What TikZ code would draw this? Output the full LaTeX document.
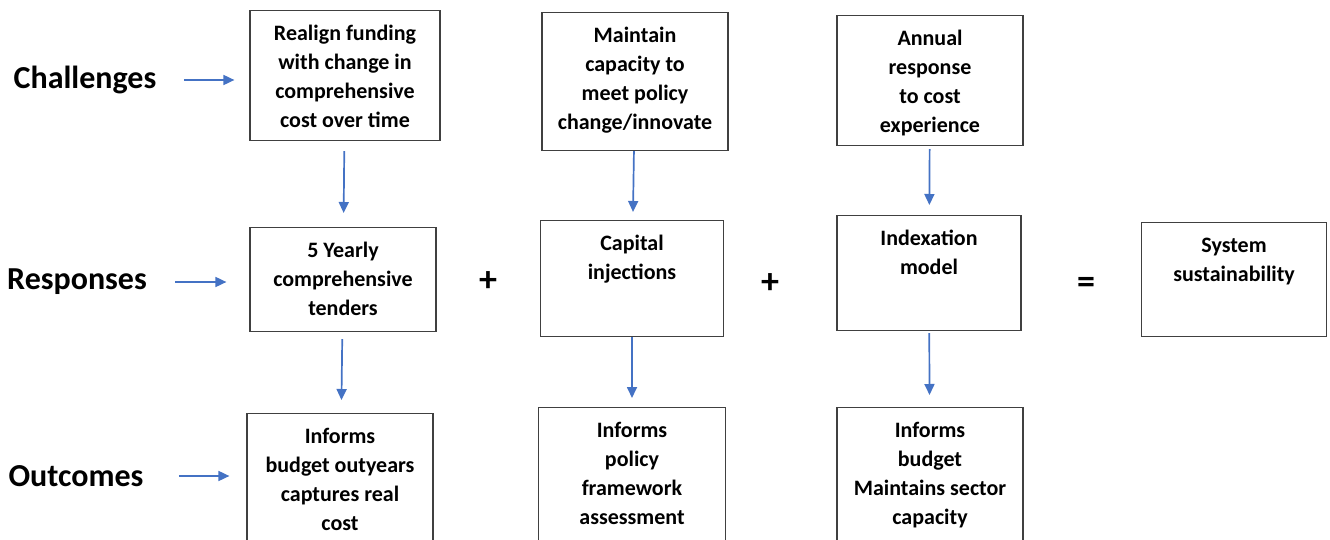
\documentclass[tikz,border=0pt]{standalone}
\usepackage{fontspec}
\setmainfont{Carlito}
\usetikzlibrary{arrows.meta}

\definecolor{flowblue}{RGB}{68,114,196}

\begin{document}
\begin{tikzpicture}[
    x = 1pt, y = -1pt,
    flow/.style = {draw = flowblue, line width = 1.7pt,
      -{Triangle[length = 11pt, width = 10pt]}},
    box/.style = {draw = black!75, line width = 1.2pt,
      anchor = north, align = center,
      font = \fontsize{22}{29}\selectfont\bfseries,
      inner sep = 0pt, minimum width = 186pt},
    stage/.style = {font = \fontsize{32}{36}\selectfont\bfseries},
    sign/.style = {font = \fontsize{36}{38}\selectfont\bfseries},
    ]

    \useasboundingbox (0, 0) rectangle (1330, 540);

    % row labels
    \node at (85, 80) [stage, name = L_chal] {Challenges};
    \node at (77, 282) [stage, name = L_resp] {Responses};
    \node at (76, 476) [stage, name = L_outc] {Outcomes};

    % challenges
    \node at (345, 10) [box, minimum width = 190pt,
    text height = 117pt, text depth = 13pt, name = C_fund]
    {Realign funding\\with change in\\comprehensive\\cost over time};
    \node at (635, 12) [box, text height = 117pt, text depth = 21pt,
    name = C_cap]
    {Maintain\\capacity to\\meet policy\\change/innovate};
    \node at (930, 15) [box, text height = 117pt, text depth = 13pt,
    name = C_cost]
    {Annual\\response\\to cost\\experience};

    % responses
    \node at (343, 227) [box, text height = 88pt, text depth = 16pt,
    name = R_tend]
    {5 Yearly\\comprehensive\\tenders};
    \node at (632, 220) [box, minimum width = 183pt,
    text height = 59pt, text depth = 57pt, name = R_capi]
    {Capital\\injections};
    \node at (929, 215) [box, minimum width = 184pt,
    text height = 59pt, text depth = 56pt, name = R_index]
    {Indexation\\model};
    \node at (1234, 222) [box, minimum width = 185pt,
    text height = 59pt, text depth = 55pt, name = R_sys]
    {System\\sustainability};

    % outcomes (run off the bottom edge)
    \node at (340, 413) [box, text height = 117pt, text depth = 83pt,
    name = O_budget]
    {Informs\\budget outyears\\captures real\\cost};
    \node at (632, 407) [box, minimum width = 187pt,
    text height = 117pt, text depth = 83pt, name = O_policy]
    {Informs\\policy\\framework\\assessment};
    \node at (930, 407) [box, text height = 117pt, text depth = 83pt,
    name = O_sector]
    {Informs\\budget\\Maintains sector\\capacity};

    % signs between the responses
    \node at (488, 282) [sign, name = plus_a] {+};
    \node at (770, 284) [sign, name = plus_b] {+};
    \node at (1086, 285) [sign, name = equals] {=};

    % label arrows
    \draw [flow, shorten < = 24pt, shorten > = 15pt]
    (L_chal.east) to (L_chal.east -| C_fund.west);
    \draw [flow, shorten < = 25pt, shorten > = 23pt]
    (L_resp.east) to (L_resp.east -| R_tend.west);
    \draw [flow, shorten < = 32pt, shorten > = 17pt]
    (L_outc.east) to (L_outc.east -| O_budget.west);

    % column arrows
    \draw [flow, shorten < = 10pt, shorten > = 14pt] (C_fund) to (R_tend);
    \draw [flow, shorten < = 7pt, shorten > = 13pt] (R_tend) to (O_budget);

    \draw [flow, shorten > = 8pt] (C_cap) to (R_capi);
    \draw [flow, shorten > = 9pt] (R_capi) to (O_policy);

    \draw [flow, shorten < = 3pt, shorten > = 10pt] (C_cost) to (R_index);
    \draw [flow, shorten < = 2pt, shorten > = 12pt] (R_index) to (O_sector);

  \end{tikzpicture}
\end{document}
